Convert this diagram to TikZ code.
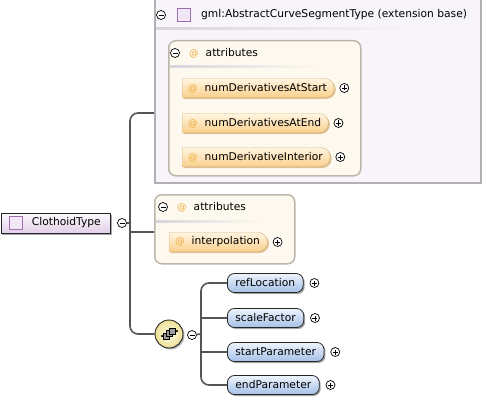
\documentclass[tikz,border=0pt]{standalone}
\usepackage{fontspec}
\setmainfont{DejaVu Sans}
\usetikzlibrary{shapes.misc,shadows}

\definecolor{extfill}{HTML}{F8F5FA}
\definecolor{extline}{HTML}{B2B0B4}
\definecolor{grpfill}{HTML}{FDF9EF}
\definecolor{grpline}{HTML}{BCB6AA}
\definecolor{attrtop}{HTML}{FFF5E2}
\definecolor{attrbot}{HTML}{FAD08C}
\definecolor{attrline}{HTML}{D9B880}
\definecolor{attrshade}{HTML}{C89A58}
\definecolor{atsign}{HTML}{EFA834}
\definecolor{elemtop}{HTML}{EEF4FD}
\definecolor{elembot}{HTML}{A4C0E8}
\definecolor{typetop}{HTML}{FCF9FD}
\definecolor{typebot}{HTML}{E2D0E8}
\definecolor{iconfill}{HTML}{F2E8F5}
\definecolor{iconline}{HTML}{A070B2}
\definecolor{connline}{HTML}{555555}
\definecolor{septone}{HTML}{D8D4DC}
\definecolor{seqin}{HTML}{FFFDE6}
\definecolor{seqout}{HTML}{EDE096}
\definecolor{seqicon}{HTML}{9C9C9C}

\newcommand{\attsym}{{\fontsize{9.5}{10}\selectfont\color{atsign}@}\hspace{7pt}}

\begin{document}
\begin{tikzpicture}
  [x=1pt,y=-1pt,font=\fontsize{10.7}{12}\selectfont,
   every node/.style={inner sep=0pt},
   conn/.style={draw=connline, line width=1.6pt, rounded corners=8pt},
   extbox/.style={rectangle, draw=extline, line width=1.5pt, fill=extfill},
   grpbox/.style={rectangle, rounded corners=7pt, draw=grpline, line width=1.5pt, fill=grpfill},
   attr/.style={rounded rectangle, rounded rectangle left arc=none, draw=attrline,
     top color=attrtop, bottom color=attrbot, minimum height=19pt, inner xsep=6pt,
     drop shadow={shadow xshift=1.5pt, shadow yshift=-1.5pt, fill=attrshade, opacity=.6}},
   elem/.style={rectangle, rounded corners=7pt, draw=black!85, line width=.8pt,
     top color=elemtop, bottom color=elembot, minimum height=19pt, inner xsep=8pt,
     drop shadow={shadow xshift=1.5pt, shadow yshift=-1.5pt, fill=black, opacity=.35}},
   typebox/.style={rectangle, draw=black!85, line width=.8pt, top color=typetop,
     bottom color=typebot, minimum height=20pt,
     drop shadow={shadow xshift=1.5pt, shadow yshift=-1.5pt, fill=black, opacity=.35}},
   typeicon/.style={rectangle, draw=iconline, line width=.8pt, fill=iconfill, minimum size=13pt},
   seqnode/.style={circle, draw=black!85, line width=.9pt, inner color=seqin, outer color=seqout,
     minimum size=28pt,
     drop shadow={shadow xshift=1.5pt, shadow yshift=-1.5pt, fill=black, opacity=.3}},
   btn/.style={circle, draw=black, fill=white, line width=.7pt, minimum size=9pt},
   minusbtn/.style={btn, path picture={\draw[line width=.7pt]
     ([xshift=-2.5pt]path picture bounding box.center) -- ([xshift=2.5pt]path picture bounding box.center);}},
   plusbtn/.style={btn, path picture={\draw[line width=.7pt]
     ([xshift=-2.5pt]path picture bounding box.center) -- ([xshift=2.5pt]path picture bounding box.center)
     ([yshift=-2.5pt]path picture bounding box.center) -- ([yshift=2.5pt]path picture bounding box.center);}}]
  \useasboundingbox (0,0) rectangle (484,401);

  % extension base
  \node[extbox, anchor=north west, minimum width=326pt, minimum height=185pt] (ext) at (154,-3) {};
  \node[minusbtn] (extm) at (161,15) {};
  \node[typeicon] (exti) at (184,15) {};
  \node[anchor=west] (extt) at (201,15) {gml:AbstractCurveSegmentType (extension base)};
  \fill[left color=septone, right color=extfill] (156,28) rectangle (420,30);

  \node[grpbox, anchor=north west, minimum width=192pt, minimum height=135pt] (grpa) at (168,40) {};
  \node[minusbtn] (grpam) at (175,53) {};
  \node[anchor=west] (grpat) at (189,53) {\attsym attributes};
  \fill[left color=septone, right color=grpfill] (170,66) rectangle (320,68);

  \node[attr, anchor=west] (nds) at (182,88) {\attsym numDerivativesAtStart};
  \node[attr, anchor=west] (nde) at (182,123) {\attsym numDerivativesAtEnd};
  \node[attr, anchor=west] (ndi) at (182,157) {\attsym numDerivativeInterior};
  \foreach \a in {nds,nde,ndi}
    \node[plusbtn, anchor=west] (\a p) at ([xshift=5pt]\a.east) {};

  % own attributes
  \node[grpbox, anchor=north west, minimum width=140pt, minimum height=69pt] (grpb) at (154,194) {};
  \node[minusbtn] (grpbm) at (163,207) {};
  \node[anchor=west] (grpbt) at (177,207) {\attsym attributes};
  \fill[left color=septone, right color=grpfill] (156,220) rectangle (260,222);
  \node[attr, anchor=west] (intp) at (169,242) {\attsym interpolation};
  \node[plusbtn, anchor=west] (intpp) at ([xshift=5pt]intp.east) {};

  % the type
  \node[typebox, anchor=west] (ct) at (0.5,223) {\hspace*{31pt}ClothoidType\hspace*{10pt}};
  \node[typeicon] (cti) at (15.5,223) {};
  \node[minusbtn] (ctm) at (122,223) {};

  % sequence
  \node[seqnode] (seq) at (169,334) {};
  \draw[line width=.6pt] ([xshift=-7pt,yshift=-2pt]seq.center) -- ([yshift=-2pt]seq.center)
    ([xshift=3pt,yshift=3pt]seq.center) -- ([xshift=8pt,yshift=3pt]seq.center);
  \fill ([xshift=-7pt,yshift=-2pt]seq.center) circle (1.2pt) ([xshift=8pt,yshift=3pt]seq.center) circle (1.2pt);
  \foreach \dx/\dy in {-3/-2.5,0/0.3,3/3}
    \draw[fill=seqicon, line width=.5pt] ([xshift=\dx pt, yshift=\dy pt]seq.center) ++(-3pt,-3pt) rectangle ++(6pt,6pt);
  \node[minusbtn] (seqm) at (192,335) {};

  \node[elem, anchor=west] (refl) at (227,283) {refLocation};
  \node[elem, anchor=west] (scal) at (227,318) {scaleFactor};
  \node[elem, anchor=west] (strt) at (227,352) {startParameter};
  \node[elem, anchor=west] (endp) at (227,385) {endParameter};
  \foreach \e in {refl,scal,strt,endp}
    \node[plusbtn, anchor=west] (\e p) at ([xshift=6pt]\e.east) {};

  % connectors
  \coordinate (tj) at (130,223);
  \coordinate (tk) at (130,232);
  \coordinate (sj) at (201,334);
  \draw[conn] (ctm) -- (tj);
  \draw[conn] (tj) |- (ext.west |- 0,113);
  \draw[conn] (tj) |- (seq.west);
  \draw[conn] (tk) -- (tk -| grpb.west);
  \draw[conn] (seqm) -- (sj);
  \draw[conn] (sj) |- (refl.west);
  \draw[conn] (sj) |- (endp.west);
  \foreach \e in {scal,strt}
    \draw[conn] (sj |- \e.west) -- (\e.west);
\end{tikzpicture}
\end{document}
